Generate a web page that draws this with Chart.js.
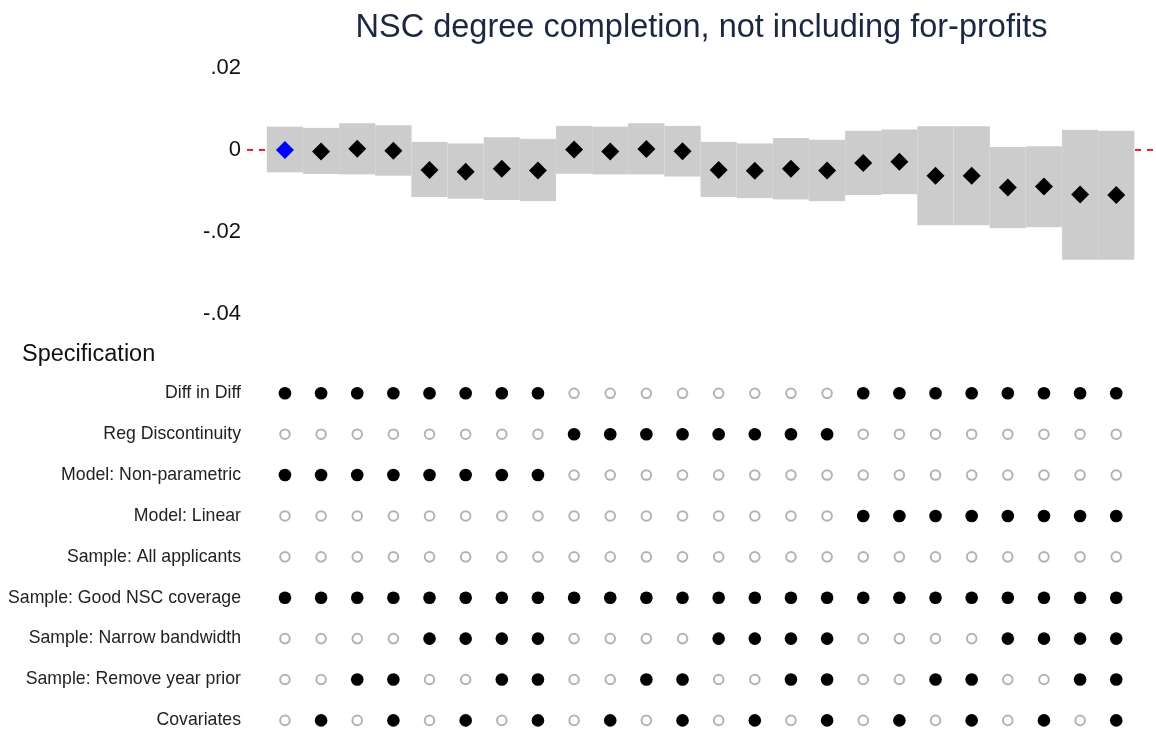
<!DOCTYPE html>
<html>
<head>
<meta charset="utf-8">
<script src="https://cdn.jsdelivr.net/npm/chart.js@4/dist/chart.umd.min.js"></script>
<style>
  html, body { margin: 0; padding: 0; background: #ffffff; overflow: hidden; }
  #wrap { position: relative; width: 1156px; height: 732px; overflow: hidden; }
  canvas { position: absolute; left: 0; }
  #top { top: 1px; }
  #bottom { top: 330px; }
  #panelTitle {
    position: absolute; left: 22px; top: 342px; margin: 0;
    font-family: "Liberation Sans", Arial, Helvetica, sans-serif;
    font-size: 23.5px; line-height: 23px; color: #111111; white-space: nowrap;
  }
</style>
</head>
<body>
<div id="wrap">
  <canvas id="top" width="1156" height="332"></canvas>
  <canvas id="bottom" width="1156" height="407"></canvas>
  <div id="panelTitle"></div>
</div>
<script>
// ---- Data ----
const chartTitle = 'NSC degree completion, not including for-profits';
const panelTitle = 'Specification';
const specIds = [1,2,3,4,5,6,7,8,9,10,11,12,13,14,15,16,17,18,19,20,21,22,23,24];
const estimates = [0.0000, -0.0004, 0.0003, -0.0002, -0.0049, -0.0053, -0.0046, -0.0050,
                   0.0001, -0.0004, 0.0002, -0.0003, -0.0049, -0.0051, -0.0046, -0.0050,
                   -0.0032, -0.0029, -0.0063, -0.0063, -0.0092, -0.0089, -0.0109, -0.0110];
const ciHigh = [0.0057, 0.0054, 0.0065, 0.0060, 0.0020, 0.0016, 0.0031, 0.0027,
                0.0059, 0.0057, 0.0065, 0.0059, 0.0020, 0.0016, 0.0029, 0.0025,
                0.0047, 0.0050, 0.0058, 0.0058, 0.0007, 0.0009, 0.0049, 0.0047];
const ciLow = [-0.0055, -0.0059, -0.0060, -0.0063, -0.0115, -0.0119, -0.0122, -0.0125,
               -0.0058, -0.0060, -0.0060, -0.0065, -0.0115, -0.0118, -0.0121, -0.0125,
               -0.0110, -0.0108, -0.0184, -0.0184, -0.0191, -0.0189, -0.0268, -0.0268];
const yTickValues = [0.02, 0, -0.02, -0.04];
const yTickLabels = ['.02', '0', '-.02', '-.04'];
const referenceValue = 0;
const xMin = -0.05;
const xMax = 25.1;

const rowLabels = ['Diff in Diff', 'Reg Discontinuity', 'Model: Non-parametric', 'Model: Linear',
  'Sample: All applicants', 'Sample: Good NSC coverage', 'Sample: Narrow bandwidth',
  'Sample: Remove year prior', 'Covariates'];
const diffInDiff        = [1,1,1,1,1,1,1,1, 0,0,0,0,0,0,0,0, 1,1,1,1,1,1,1,1];
const regDiscontinuity  = [0,0,0,0,0,0,0,0, 1,1,1,1,1,1,1,1, 0,0,0,0,0,0,0,0];
const modelNonParam     = [1,1,1,1,1,1,1,1, 0,0,0,0,0,0,0,0, 0,0,0,0,0,0,0,0];
const modelLinear       = [0,0,0,0,0,0,0,0, 0,0,0,0,0,0,0,0, 1,1,1,1,1,1,1,1];
const sampleAll         = [0,0,0,0,0,0,0,0, 0,0,0,0,0,0,0,0, 0,0,0,0,0,0,0,0];
const sampleGoodNSC     = [1,1,1,1,1,1,1,1, 1,1,1,1,1,1,1,1, 1,1,1,1,1,1,1,1];
const sampleNarrow      = [0,0,0,0,1,1,1,1, 0,0,0,0,1,1,1,1, 0,0,0,0,1,1,1,1];
const sampleRemoveYear  = [0,0,1,1,0,0,1,1, 0,0,1,1,0,0,1,1, 0,0,1,1,0,0,1,1];
const covariates        = [0,1,0,1,0,1,0,1, 0,1,0,1,0,1,0,1, 0,1,0,1,0,1,0,1];
const rowFlags = [diffInDiff, regDiscontinuity, modelNonParam, modelLinear, sampleAll,
  sampleGoodNSC, sampleNarrow, sampleRemoveYear, covariates];

// ---- Shared ----
const FONT = '"Liberation Sans", Arial, Helvetica, sans-serif';
Chart.defaults.font.family = FONT;
document.getElementById('panelTitle').textContent = panelTitle;

const makeXScale = () => ({
  type: 'linear', min: xMin, max: xMax, display: false, offset: false,
  afterBuildTicks: s => { s.ticks = specIds.map(v => ({ value: v })); }
});

// ---- Top panel ----
new Chart(document.getElementById('top'), {
  type: 'bar',
  data: {
    datasets: [
      {
        type: 'scatter',
        data: estimates.map((v, i) => ({ x: specIds[i], y: v })),
        pointStyle: 'rectRot',
        pointRadius: 9,
        pointHoverRadius: 9,
        pointBackgroundColor: ctx => ctx.dataIndex === 0 ? '#0000ff' : '#000000',
        pointBorderWidth: 0,
        order: 0,
        clip: false
      },
      {
        type: 'bar',
        data: ciLow.map((lo, i) => ({ x: specIds[i], y: [lo, ciHigh[i]] })),
        backgroundColor: '#cccccc',
        borderColor: '#dedede',
        borderWidth: { left: 0.5, right: 0.5, top: 0, bottom: 0 },
        borderSkipped: false,
        categoryPercentage: 1,
        barPercentage: 1,
        order: 1
      },
      {
        type: 'line',
        data: [{ x: xMin, y: referenceValue }, { x: xMax, y: referenceValue }],
        borderColor: '#e0202a',
        borderDash: [6, 6],
        borderWidth: 2,
        pointRadius: 0,
        order: 2,
        clip: false
      }
    ]
  },
  options: {
    responsive: false,
    animation: false,
    layout: { autoPadding: false, padding: { top: 0, left: 0, right: 0, bottom: 0 } },
    plugins: {
      legend: { display: false },
      tooltip: { enabled: false },
      title: {
        display: true, text: chartTitle, fullSize: false, align: 'center',
        color: '#1c2841',
        font: { size: 32.5, weight: 'normal', family: FONT },
        padding: { top: 8, bottom: 20 }
      }
    },
    scales: {
      x: makeXScale(),
      y: {
        type: 'linear', min: -0.04, max: 0.02,
        afterBuildTicks: s => { s.ticks = yTickValues.map(v => ({ value: v })); },
        afterFit: s => { s.width = 247; },
        grid: { display: false, drawTicks: false },
        border: { display: false },
        ticks: {
          padding: 6, color: '#111111',
          font: { size: 22, family: FONT },
          callback: (v, i) => yTickLabels[i]
        }
      }
    }
  }
});

// ---- Bottom panel ----
const filledPts = [];
const emptyPts = [];
rowFlags.forEach((flags, r) => {
  flags.forEach((f, c) => {
    (f ? filledPts : emptyPts).push({ x: specIds[c], y: rowLabels[r] });
  });
});

new Chart(document.getElementById('bottom'), {
  type: 'scatter',
  data: {
    datasets: [
      { data: filledPts, pointRadius: 6.3, pointHoverRadius: 6.3, pointBackgroundColor: '#000000', pointBorderWidth: 0, clip: false },
      { data: emptyPts, pointRadius: 4.8, pointHoverRadius: 4.8, pointBackgroundColor: '#ffffff', pointBorderColor: '#b3b3b3', pointBorderWidth: 2, clip: false }
    ]
  },
  options: {
    responsive: false,
    animation: false,
    layout: { autoPadding: false, padding: { top: 63.3, left: 0, right: 0, bottom: 0 } },
    plugins: {
      legend: { display: false },
      tooltip: { enabled: false },
      title: { display: false }
    },
    scales: {
      x: makeXScale(),
      y: {
        type: 'category', labels: rowLabels, offset: false,
        afterFit: s => { s.width = 247; },
        grid: { display: false, drawTicks: false },
        border: { display: false },
        ticks: {
          padding: 6, color: '#222222', autoSkip: false,
          font: { size: 17.7, family: FONT }
        }
      }
    }
  }
});
</script>
</body>
</html>
